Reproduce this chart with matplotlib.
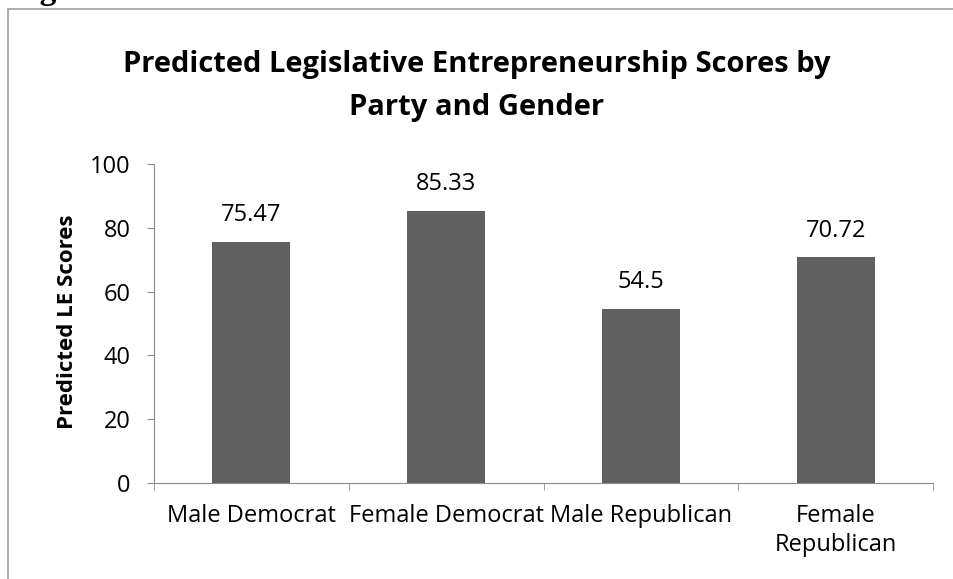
import matplotlib.pyplot as plt
from matplotlib.patches import Rectangle

plt.rcParams["font.family"] = ["Open Sans", "DejaVu Sans"]

# data
groups = ["Male Democrat", "Female Democrat", "Male Republican", "Female\nRepublican"]
scores = [75.47, 85.33, 54.5, 70.72]
score_labels = ["75.47", "85.33", "54.5", "70.72"]
y_ticks = [0, 20, 40, 60, 80, 100]

W, H = 954, 579
fig = plt.figure(figsize=(W / 100, H / 100), dpi=100)
fig.patch.set_facecolor("white")

# outer chart frame (runs off the right/bottom edges)
fig.patches.append(Rectangle((8 / W, -0.1), 1.2, 1 - 9 / H + 0.1,
                             transform=fig.transFigure, fill=False,
                             edgecolor="#a0a0a0", linewidth=1.2))
fig.text(10 / W, 1 + 1 / H, "Figure 2.7", fontsize=24, fontweight="bold",
         family="Liberation Serif", ha="left", va="baseline")

# plot area in pixels: x 154..933, y 164..483
ax = fig.add_axes([154 / W, 1 - 483 / H, (933 - 154) / W, (483 - 164) / H])

x = list(range(len(groups)))
ax.bar(x, scores, width=0.4, color="#606060")
for xi, s, lab in zip(x, scores, score_labels):
    ax.annotate(lab, (xi, s), xytext=(0, 15), textcoords="offset points",
                ha="center", va="baseline", fontsize=17)

ax.set_xlim(-0.5, len(groups) - 0.5)
ax.set_ylim(0, 100)
ax.set_yticks(y_ticks)
ax.set_yticklabels([str(t) for t in y_ticks], fontsize=17)
ax.set_xticks(x)
ax.set_xticklabels(groups, fontsize=17, linespacing=1.26)
ax.tick_params(axis="x", length=0, pad=15)
ax.tick_params(axis="y", length=5, color="#8c8c8c", pad=12)

# category separators on the x axis
ax.set_xticks([i - 0.5 for i in range(len(groups) + 1)], minor=True)
ax.tick_params(axis="x", which="minor", length=5, color="#8c8c8c", direction="out")

for side in ["top", "right"]:
    ax.spines[side].set_visible(False)
for side in ["left", "bottom"]:
    ax.spines[side].set_color("#8c8c8c")

ax.set_ylabel("Predicted LE Scores", fontsize=16, fontweight="bold")
ax.yaxis.set_label_coords(-0.098, 0.505)

title_x = 477 / W
fig.text(title_x, 1 - 72 / H, "Predicted Legislative Entrepreneurship Scores by",
         ha="center", va="baseline", fontsize=21, fontweight="bold")
fig.text(title_x, 1 - 115 / H, "Party and Gender",
         ha="center", va="baseline", fontsize=21, fontweight="bold")

fig.savefig("out.png", dpi=100)
